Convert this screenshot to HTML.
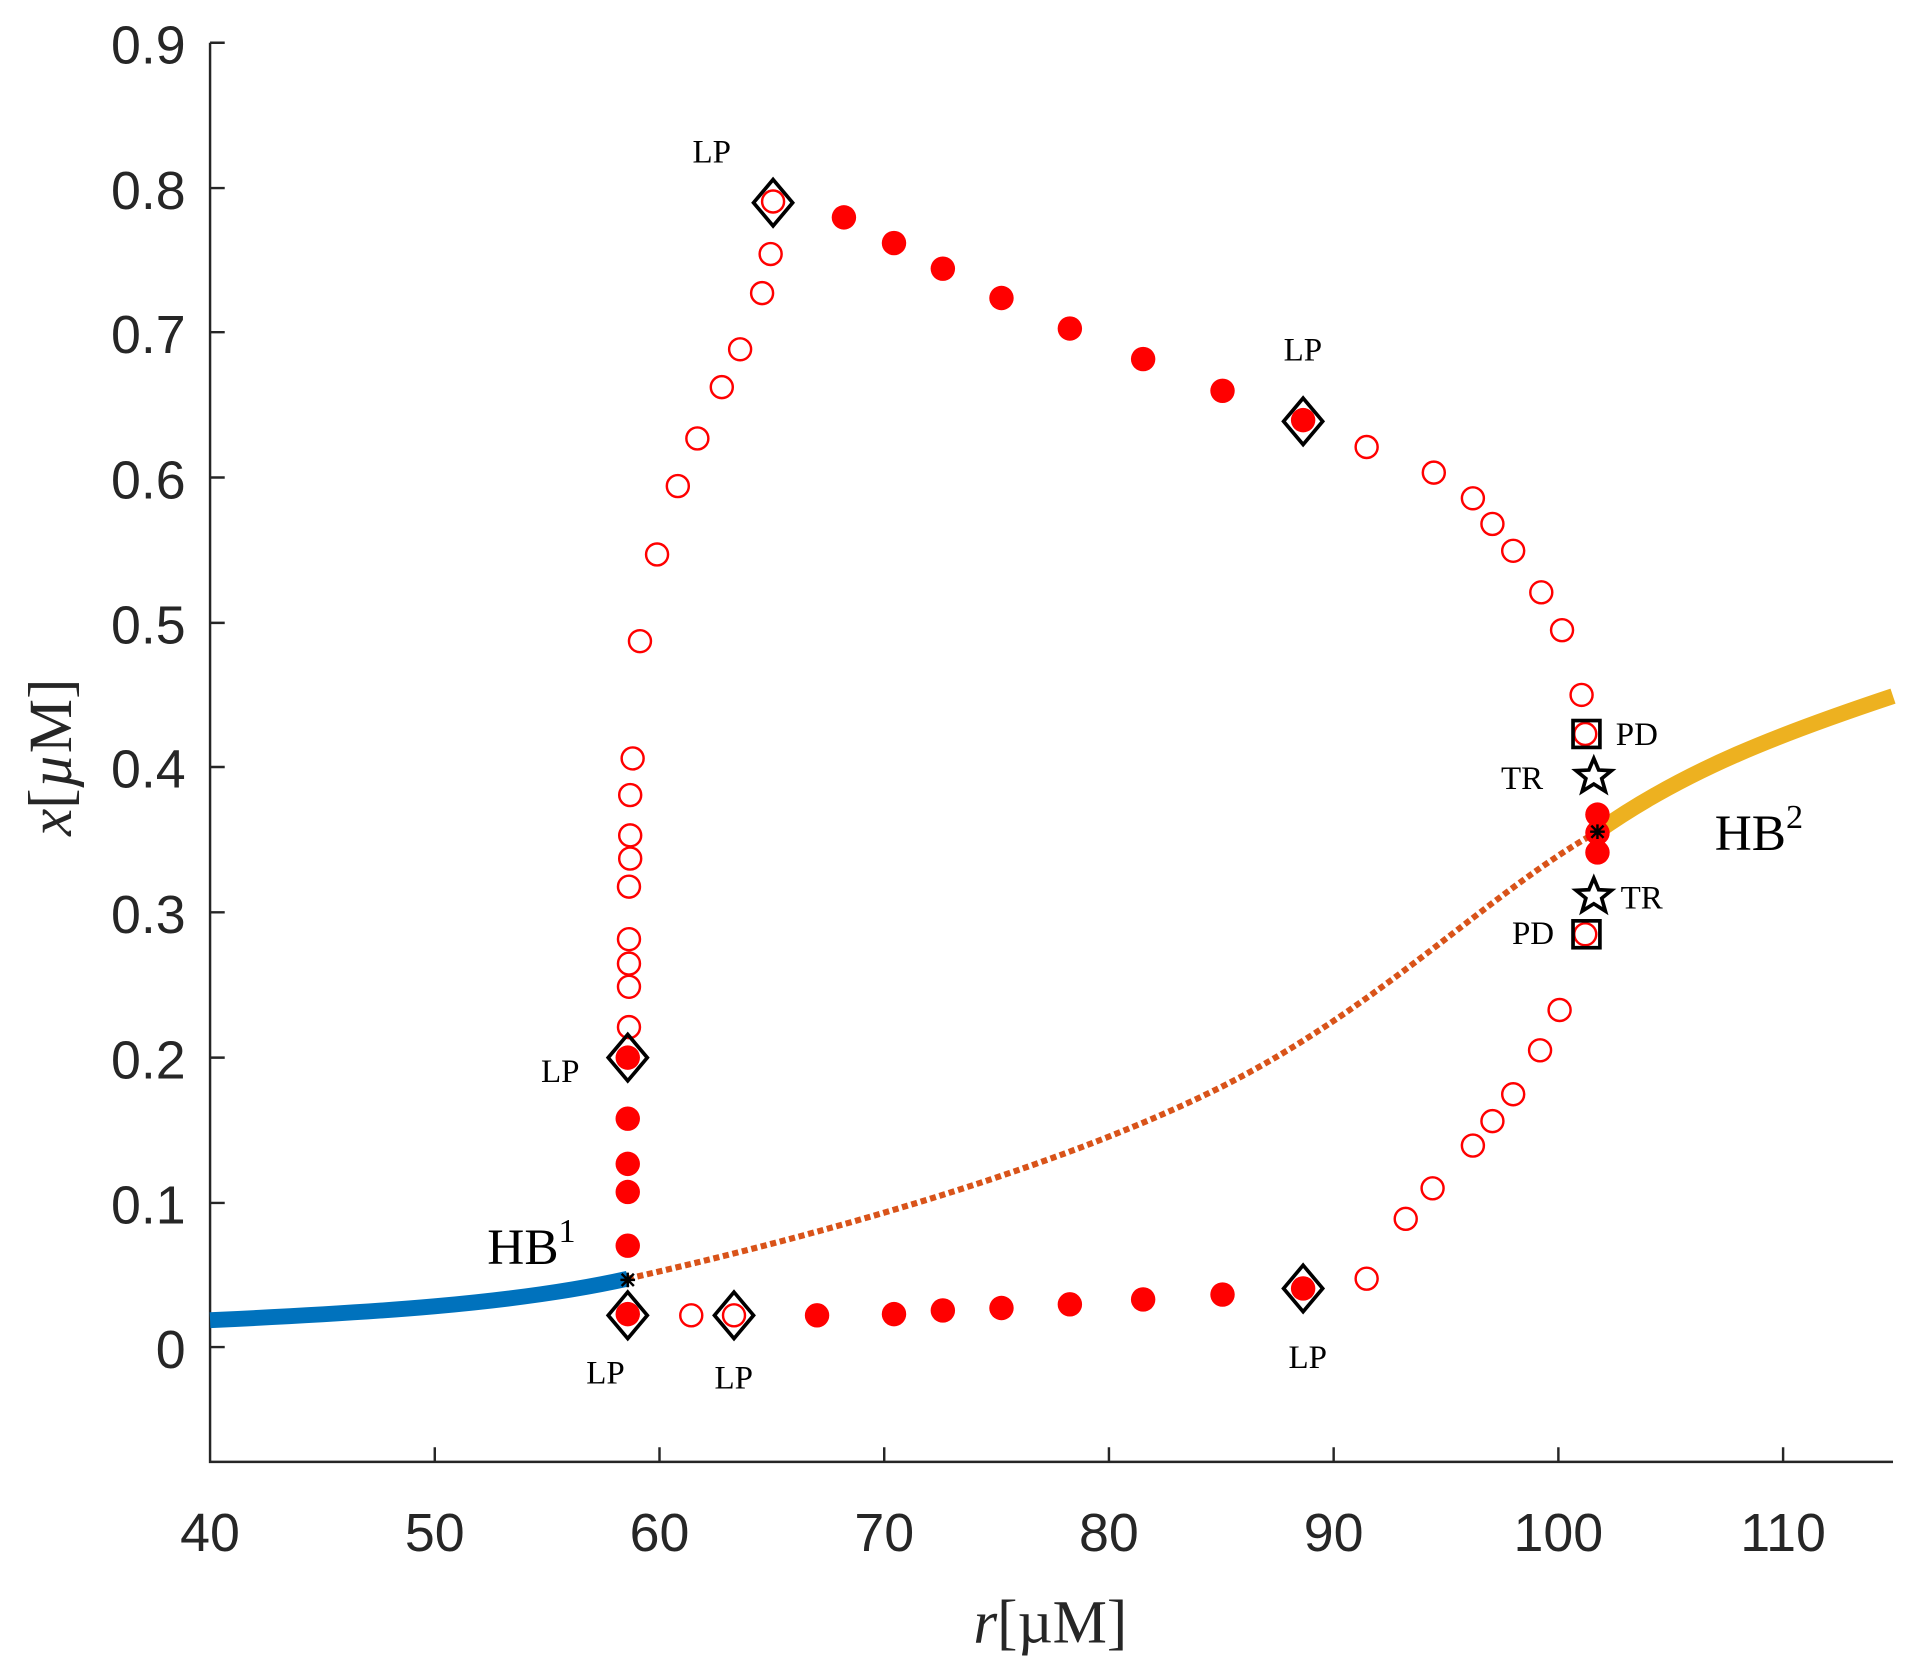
<!DOCTYPE html>
<html><head><meta charset="utf-8"><style>
html,body{margin:0;padding:0;background:#fff;}
svg{display:block;}
text{font-family:"Liberation Sans",sans-serif;}
text.s,.s text{font-family:"Liberation Serif",serif;}
</style></head><body>
<svg width="1915" height="1680" viewBox="0 0 1568 1375.6" preserveAspectRatio="none" xmlns="http://www.w3.org/2000/svg">
<rect width="1568" height="1376" fill="#fff"/>
<g stroke="#262626" stroke-width="2" fill="none">
<path d="M172,35 V1197 H1550"/>
<path d="M172,35h12 M172,154h12 M172,272h12 M172,391h12 M172,510h12 M172,628h12 M172,747h12 M172,866h12 M172,985h12 M172,1103h12"/>
<path d="M356,1197v-12 M540,1197v-12 M724,1197v-12 M908,1197v-12 M1092,1197v-12 M1276,1197v-12 M1460,1197v-12"/>
</g>
<g font-size="44" fill="#262626" text-anchor="end">
<text x="152" y="52">0.9</text><text x="152" y="171">0.8</text><text x="152" y="289">0.7</text><text x="152" y="408">0.6</text><text x="152" y="527">0.5</text><text x="152" y="645">0.4</text><text x="152" y="764">0.3</text><text x="152" y="883">0.2</text><text x="152" y="1002">0.1</text><text x="152" y="1120">0</text>
</g>
<g font-size="44" fill="#262626" text-anchor="middle">
<text x="172" y="1270">40</text><text x="356" y="1270">50</text><text x="540" y="1270">60</text><text x="724" y="1270">70</text><text x="908" y="1270">80</text><text x="1092" y="1270">90</text><text x="1276" y="1270">100</text><text x="1460" y="1270">110</text>
</g>
<text class="s" x="860" y="1345" font-size="50" text-anchor="middle" fill="#262626"><tspan font-style="italic">r</tspan>[µM]</text>
<text class="s" transform="translate(58,620) rotate(-90)" font-size="50" text-anchor="middle" fill="#262626"><tspan font-style="italic">x</tspan>[<tspan font-style="italic">µ</tspan>M]</text>
<path d="M172,1081 C300,1075 420,1068 514,1047" stroke="#0072bd" stroke-width="13" fill="none"/>
<path d="M514,1047 C700,1005 880,950 1000,890 C1130,825 1220,730 1308,681" stroke="#d95319" stroke-width="5" stroke-dasharray="5,3" fill="none"/>
<path d="M1308,681 C1380,630 1460,600 1550,570" stroke="#edb120" stroke-width="13" fill="none"/>
<g fill="none" stroke="#ff0000" stroke-width="2">
<circle cx="633" cy="165" r="9"/><circle cx="631" cy="208" r="9"/><circle cx="624" cy="240" r="9"/><circle cx="606" cy="286" r="9"/><circle cx="591" cy="317" r="9"/><circle cx="571" cy="359" r="9"/><circle cx="555" cy="398" r="9"/><circle cx="538" cy="454" r="9"/><circle cx="524" cy="525" r="9"/><circle cx="518" cy="621" r="9"/><circle cx="516" cy="651" r="9"/><circle cx="516" cy="684" r="9"/><circle cx="516" cy="703" r="9"/><circle cx="515" cy="726" r="9"/><circle cx="515" cy="769" r="9"/><circle cx="515" cy="789" r="9"/><circle cx="515" cy="808" r="9"/><circle cx="515" cy="841" r="9"/>
<circle cx="1119" cy="366" r="9"/><circle cx="1174" cy="387" r="9"/><circle cx="1206" cy="408" r="9"/><circle cx="1222" cy="429" r="9"/><circle cx="1239" cy="451" r="9"/><circle cx="1262" cy="485" r="9"/><circle cx="1279" cy="516" r="9"/><circle cx="1295" cy="569" r="9"/><circle cx="1298" cy="601" r="9"/>
<circle cx="1277" cy="827" r="9"/><circle cx="1261" cy="860" r="9"/><circle cx="1239" cy="896" r="9"/><circle cx="1222" cy="918" r="9"/><circle cx="1206" cy="938" r="9"/><circle cx="1173" cy="973" r="9"/><circle cx="1151" cy="998" r="9"/><circle cx="1119" cy="1047" r="9"/><circle cx="1298" cy="765" r="9"/>
<circle cx="566" cy="1077" r="9"/><circle cx="601" cy="1077" r="9"/>
</g>
<g fill="#ff0000">
<circle cx="691" cy="178" r="10"/><circle cx="732" cy="199" r="10"/><circle cx="772" cy="220" r="10"/><circle cx="820" cy="244" r="10"/><circle cx="876" cy="269" r="10"/><circle cx="936" cy="294" r="10"/><circle cx="1001" cy="320" r="10"/><circle cx="1067" cy="344" r="10"/>
<circle cx="514" cy="866" r="10"/><circle cx="514" cy="916" r="10"/><circle cx="514" cy="953" r="10"/><circle cx="514" cy="976" r="10"/><circle cx="514" cy="1020" r="10"/><circle cx="514" cy="1076" r="10"/>
<circle cx="669" cy="1077" r="10"/><circle cx="732" cy="1076" r="10"/><circle cx="772" cy="1073" r="10"/><circle cx="820" cy="1071" r="10"/><circle cx="876" cy="1068" r="10"/><circle cx="936" cy="1064" r="10"/><circle cx="1001" cy="1060" r="10"/><circle cx="1067" cy="1055" r="10"/>
<circle cx="1308" cy="667" r="10"/><circle cx="1308" cy="698" r="10"/><circle cx="1308" cy="682" r="10"/>
</g>
<g fill="none" stroke="#000" stroke-width="3">
<path d="M633,147 l16,19 l-16,19 l-16,-19z"/>
<path d="M1067,326 l16,19 l-16,19 l-16,-19z"/>
<path d="M514,847 l16,19 l-16,19 l-16,-19z"/>
<path d="M514,1058 l16,19 l-16,19 l-16,-19z"/>
<path d="M601,1058 l16,19 l-16,19 l-16,-19z"/>
<path d="M1067,1036 l16,19 l-16,19 l-16,-19z"/>
<rect x="1288" y="590" width="22" height="22"/>
<rect x="1288" y="754" width="22" height="22"/>
<path d="M1305,621 l4,9.5 l10.5,0.5 l-8,6.5 l3,10.5 l-9.5,-6 l-9.5,6 l3,-10.5 l-8,-6.5 l10.5,-0.5z"/>
<path d="M1305,719 l4,9.5 l10.5,0.5 l-8,6.5 l3,10.5 l-9.5,-6 l-9.5,6 l3,-10.5 l-8,-6.5 l10.5,-0.5z"/>
</g>
<g stroke="#000" stroke-width="2">
<path d="M508,1048h12 M514,1042v12 M509,1043l10,10 M519,1043l-10,10"/>
<path d="M1302,681h12 M1308,675v12 M1303,676l10,10 M1313,676l-10,10"/>
</g>
<g class="s" font-size="27" fill="#000">
<text x="567" y="133">LP</text>
<text x="1051" y="295">LP</text>
<text x="443" y="886">LP</text>
<text x="480" y="1133">LP</text>
<text x="585" y="1137">LP</text>
<text x="1055" y="1120">LP</text>
<text x="1323" y="610">PD</text>
<text x="1238" y="773">PD</text>
<text x="1229" y="646">TR</text>
<text x="1327" y="744">TR</text>
</g>
<text class="s" x="399" y="1035" font-size="42" fill="#000">HB<tspan font-size="28" dy="-18">1</tspan></text>
<text class="s" x="1404" y="696" font-size="42" fill="#000">HB<tspan font-size="28" dy="-18">2</tspan></text>
</svg>
</body></html>
